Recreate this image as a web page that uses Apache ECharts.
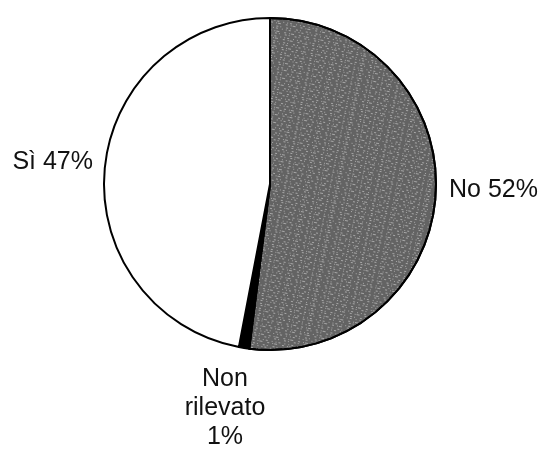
<!DOCTYPE html>
<html><head><meta charset="utf-8">
<script src="https://cdn.jsdelivr.net/npm/echarts@6/dist/echarts.min.js"></script>
<style>html,body{margin:0;padding:0;background:#fff}#c{width:544px;height:454px}</style>
</head><body><div id="c"></div>
<script>
const categories = ['No', 'Non\nrilevato', 'Sì'];
const values = [52, 1, 47];
const labels = ['No 52%', 'Non\nrilevato\n1%', 'Sì 47%'];
const colors = ['#636363', '#000000', '#ffffff'];
const labelAnchors = [
  { x: 449, y: 190, align: 'left' },
  { x: 225, y: 408, align: 'center' },
  { x: 93, y: 162, align: 'right' }
];

const chart = echarts.init(document.getElementById('c'));
chart.setOption({
  backgroundColor: '#fff',
  animation: false,
  series: [{
    type: 'pie',
    center: [270, 184],
    radius: 166,
    startAngle: 90,
    clockwise: true,
    label: {
      show: true, position: 'outside', color: '#111',
      fontFamily: 'Liberation Sans, Arial, sans-serif', fontSize: 25,
      lineHeight: 29, align: 'center', overflow: 'none',
      alignTo: 'none',
      formatter: p => labels[p.dataIndex]
    },
    labelLine: { show: false },
    labelLayout: p => ({
      x: labelAnchors[p.dataIndex].x,
      y: labelAnchors[p.dataIndex].y,
      align: labelAnchors[p.dataIndex].align,
      verticalAlign: 'middle'
    }),
    itemStyle: { borderColor: '#000', borderWidth: 2 },
    data: categories.map((c, i) => {
      const itemStyle = { color: colors[i] };
      if (i === 0) {
        itemStyle.decal = {
          symbol: 'rect', symbolSize: 1,
          dashArrayX: [[1, 2, 2, 4, 1, 3], [2, 3, 1, 1, 3, 5], [1, 5, 2, 2]],
          dashArrayY: [1, 1, 1, 2],
          rotation: 0.2,
          color: 'rgba(235,235,235,0.5)'
        };
      }
      return { name: c, value: values[i], itemStyle };
    })
  }]
});
</script></body></html>
